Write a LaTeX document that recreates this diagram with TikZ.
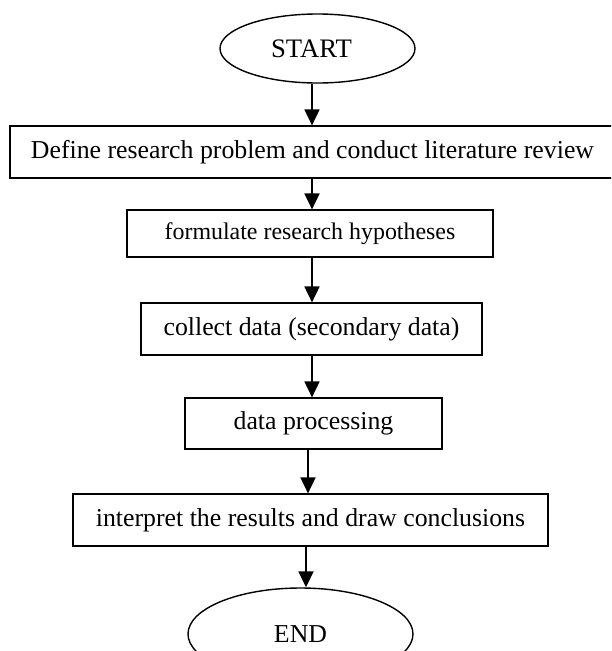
\documentclass[tikz,border=0pt]{standalone}
\usepackage{fontspec}
\setmainfont{Liberation Serif}
\usetikzlibrary{arrows.meta,shapes.geometric}
\begin{document}
\begin{tikzpicture}[x=1pt,y=-1pt,
  box/.style={draw, line width=1.2pt, rectangle, inner sep=0pt, font=\fontsize{25.8}{30}\selectfont},
  term/.style={draw, ellipse, line width=1.4pt, inner sep=0pt},
  arr/.style={line width=1.8pt, -{Triangle[length=16pt,width=15pt]}}]
\useasboundingbox (0,0) rectangle (611,651);
\clip (0,0) rectangle (611,651);
\node[term, minimum width=195pt, minimum height=69pt, font=\fontsize{26.7}{30}\selectfont] (start) at (317.5,48.5) {\kern-12pt START};
\node[box, minimum width=605pt, minimum height=52pt] (b1) at (312.5,152) {Define research problem and conduct literature review};
\node[box, minimum width=366pt, minimum height=47pt, font=\fontsize{23.9}{28}\selectfont] (b2) at (310,233.5) {formulate research hypotheses};
\node[box, minimum width=341pt, minimum height=52pt] (b3) at (311.5,329) {collect data (secondary data)};
\node[box, minimum width=257pt, minimum height=51pt] (b4) at (313.5,423.5) {data processing};
\node[box, minimum width=475pt, minimum height=52pt] (b5) at (310.5,520) {interpret the results and draw conclusions};
\node[term, minimum width=225pt, minimum height=92pt, font=\fontsize{25.8}{30}\selectfont] (end) at (300.5,634) {END};
\draw[arr] (start.south -| 312,0) -- (b1.north -| 312,0);
\draw[arr] (b1.south -| 312,0) -- (b2.north -| 312,0);
\draw[arr] (b2.south -| 312,0) -- (b3.north -| 312,0);
\draw[arr] (b3.south -| 312,0) -- (b4.north -| 312,0);
\draw[arr] (b4.south -| 308,0) -- (b5.north -| 308,0);
\draw[arr] (b5.south -| 306,0) -- (end.north -| 306,0);
\end{tikzpicture}
\end{document}
